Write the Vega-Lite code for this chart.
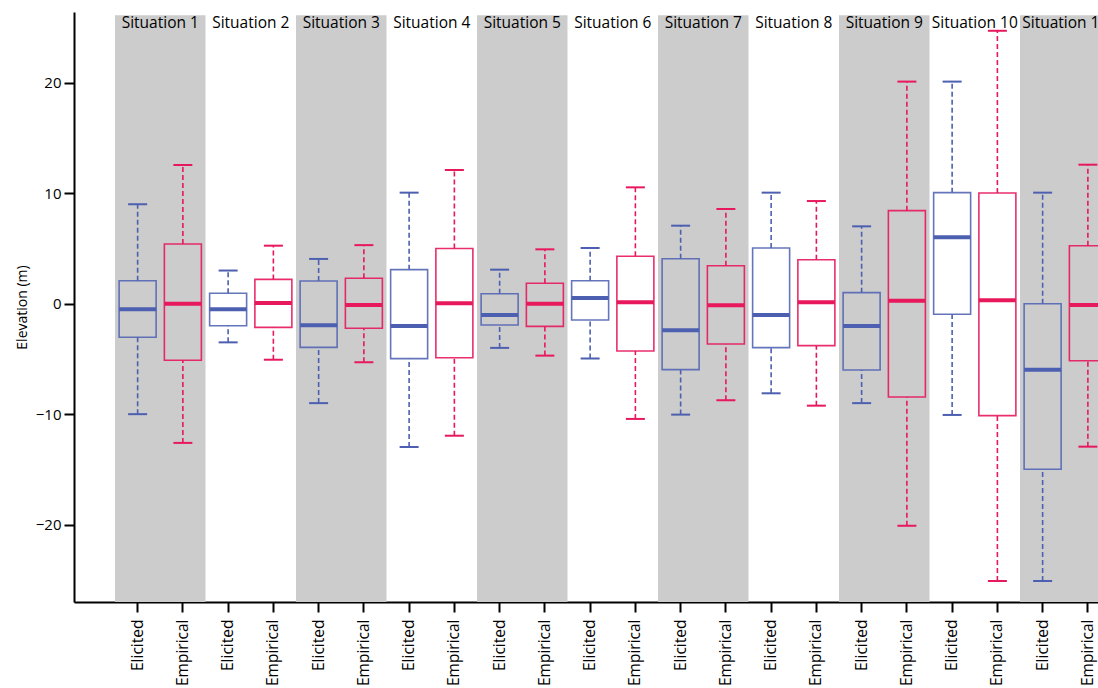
{
  "$schema": "https://vega.github.io/schema/vega-lite/v6.json",
  "autosize": {"type": "none"},
  "padding": {"left": 74, "top": 12, "right": 0, "bottom": 86},
  "width": 1024,
  "height": 590,
  "background": "white",
  "config": {
    "view": {"stroke": null},
    "font": "Open Sans",
    "axis": {
      "grid": false,
      "domainColor": "black",
      "domainWidth": 2,
      "tickColor": "black",
      "tickWidth": 2,
      "tickSize": 10,
      "labelColor": "black",
      "labelFont": "Open Sans",
      "labelFontSize": 15,
      "titleFont": "Open Sans",
      "titleFontSize": 14,
      "titleFontWeight": "normal",
      "titleColor": "black"
    }
  },
  "datasets": {
    "bg": [
      {"situation": "Situation 1", "n": 1},
      {"situation": "Situation 2", "n": 2},
      {"situation": "Situation 3", "n": 3},
      {"situation": "Situation 4", "n": 4},
      {"situation": "Situation 5", "n": 5},
      {"situation": "Situation 6", "n": 6},
      {"situation": "Situation 7", "n": 7},
      {"situation": "Situation 8", "n": 8},
      {"situation": "Situation 9", "n": 9},
      {"situation": "Situation 10", "n": 10},
      {"situation": "Situation 11", "n": 11}
    ],
    "boxes": [
      {"id": "S1 Elicited", "group": "Elicited", "lower": -10.0, "q1": -3.04, "median": -0.5, "q3": 2.08, "upper": 9.0},
      {"id": "S1 Empirical", "group": "Empirical", "lower": -12.6, "q1": -5.12, "median": 0.0, "q3": 5.4, "upper": 12.55},
      {"id": "S2 Elicited", "group": "Elicited", "lower": -3.5, "q1": -2.0, "median": -0.5, "q3": 0.94, "upper": 3.0},
      {"id": "S2 Empirical", "group": "Empirical", "lower": -5.07, "q1": -2.14, "median": 0.06, "q3": 2.2, "upper": 5.25},
      {"id": "S3 Elicited", "group": "Elicited", "lower": -9.0, "q1": -3.95, "median": -1.96, "q3": 2.05, "upper": 4.05},
      {"id": "S3 Empirical", "group": "Empirical", "lower": -5.3, "q1": -2.23, "median": -0.12, "q3": 2.3, "upper": 5.3},
      {"id": "S4 Elicited", "group": "Elicited", "lower": -12.97, "q1": -4.97, "median": -2.02, "q3": 3.08, "upper": 10.05},
      {"id": "S4 Empirical", "group": "Empirical", "lower": -11.95, "q1": -4.9, "median": 0.03, "q3": 5.0, "upper": 12.1},
      {"id": "S5 Elicited", "group": "Elicited", "lower": -4.0, "q1": -1.93, "median": -1.02, "q3": 0.9, "upper": 3.08},
      {"id": "S5 Empirical", "group": "Empirical", "lower": -4.7, "q1": -2.05, "median": 0.0, "q3": 1.85, "upper": 4.92},
      {"id": "S6 Elicited", "group": "Elicited", "lower": -4.97, "q1": -1.48, "median": 0.52, "q3": 2.08, "upper": 5.04},
      {"id": "S6 Empirical", "group": "Empirical", "lower": -10.43, "q1": -4.28, "median": 0.12, "q3": 4.29, "upper": 10.53},
      {"id": "S7 Elicited", "group": "Elicited", "lower": -10.04, "q1": -5.97, "median": -2.41, "q3": 4.07, "upper": 7.06},
      {"id": "S7 Empirical", "group": "Empirical", "lower": -8.74, "q1": -3.65, "median": -0.15, "q3": 3.44, "upper": 8.57},
      {"id": "S8 Elicited", "group": "Elicited", "lower": -8.11, "q1": -3.98, "median": -1.02, "q3": 5.04, "upper": 10.05},
      {"id": "S8 Empirical", "group": "Empirical", "lower": -9.23, "q1": -3.8, "median": 0.12, "q3": 3.98, "upper": 9.29},
      {"id": "S9 Elicited", "group": "Elicited", "lower": -9.0, "q1": -6.0, "median": -2.02, "q3": 1.0, "upper": 7.0},
      {"id": "S9 Empirical", "group": "Empirical", "lower": -20.1, "q1": -8.44, "median": 0.27, "q3": 8.42, "upper": 20.1},
      {"id": "S10 Elicited", "group": "Elicited", "lower": -10.07, "q1": -0.96, "median": 6.01, "q3": 10.05, "upper": 20.1},
      {"id": "S10 Empirical", "group": "Empirical", "lower": -25.1, "q1": -10.13, "median": 0.3, "q3": 10.02, "upper": 24.7},
      {"id": "S11 Elicited", "group": "Elicited", "lower": -25.1, "q1": -14.99, "median": -5.97, "q3": 0.0, "upper": 10.05},
      {"id": "S11 Empirical", "group": "Empirical", "lower": -12.94, "q1": -5.16, "median": -0.12, "q3": 5.25, "upper": 12.58}
    ]
  },
  "resolve": {"scale": {"x": "independent"}, "axis": {"x": "independent"}},
  "layer": [
    {
      "data": {"name": "bg"},
      "encoding": {
        "x": {
          "field": "situation",
          "type": "nominal",
          "scale": {
            "type": "band",
            "domain": ["Situation 1", "Situation 2", "Situation 3", "Situation 4", "Situation 5", "Situation 6", "Situation 7", "Situation 8", "Situation 9", "Situation 10", "Situation 11"],
            "range": [0, 1077.5],
            "paddingInner": 0,
            "paddingOuter": 0.453
          },
          "axis": null
        }
      },
      "layer": [
        {
          "mark": {"type": "rect"},
          "encoding": {
            "y": {"datum": 26.1, "type": "quantitative", "scale": {"domain": [-27, 26.4], "nice": false, "zero": false}, "axis": {"values": [-20, -10, 0, 10, 20], "title": "Elevation (m)", "labelPadding": 3, "titlePadding": 6}},
            "y2": {"datum": -27},
            "fill": {"condition": {"test": "datum.n % 2 == 1", "value": "#cccccc"}, "value": "transparent"}
          }
        },
        {
          "mark": {"type": "text", "fontSize": 15.5, "font": "Open Sans", "color": "black", "baseline": "middle", "align": "center"},
          "encoding": {
            "y": {"datum": 25.4, "type": "quantitative"},
            "text": {"field": "situation"}
          }
        }
      ]
    },
    {
      "data": {"name": "boxes"},
      "encoding": {
        "x": {
          "field": "id",
          "type": "nominal",
          "scale": {
            "type": "band",
            "domain": ["S1 Elicited", "S1 Empirical", "S2 Elicited", "S2 Empirical", "S3 Elicited", "S3 Empirical", "S4 Elicited", "S4 Empirical", "S5 Elicited", "S5 Empirical", "S6 Elicited", "S6 Empirical", "S7 Elicited", "S7 Empirical", "S8 Elicited", "S8 Empirical", "S9 Elicited", "S9 Empirical", "S10 Elicited", "S10 Empirical", "S11 Elicited", "S11 Empirical"],
            "range": [0, 1077.5],
            "paddingInner": 0,
            "paddingOuter": 0.906
          },
          "axis": {
            "orient": "bottom",
            "title": null,
            "labelExpr": "split(datum.label, ' ')[1]",
            "labelAngle": -90,
            "labelAlign": "right",
            "labelBaseline": "middle",
            "labelPadding": 7,
            "labelFontSize": 15.5
          }
        },
        "color": {
          "field": "group",
          "type": "nominal",
          "scale": {"domain": ["Elicited", "Empirical"], "range": ["#4d5fb0", "#e8185c"]},
          "legend": null
        }
      },
      "layer": [
        {
          "mark": {"type": "rule", "strokeDash": [5, 3], "strokeWidth": 1.6},
          "encoding": {
            "y": {"field": "lower", "type": "quantitative", "title": "Elevation (m)", "axis": {"values": [-20, -10, 0, 10, 20], "title": "Elevation (m)", "labelPadding": 3, "titlePadding": 6}},
            "y2": {"field": "q1"}
          }
        },
        {
          "mark": {"type": "rule", "strokeDash": [5, 3], "strokeWidth": 1.6},
          "encoding": {
            "y": {"field": "q3", "type": "quantitative"},
            "y2": {"field": "upper"}
          }
        },
        {
          "mark": {"type": "tick", "orient": "horizontal", "size": 19, "thickness": 2, "opacity": 1},
          "encoding": {"y": {"field": "lower", "type": "quantitative"}}
        },
        {
          "mark": {"type": "tick", "orient": "horizontal", "size": 19, "thickness": 2, "opacity": 1},
          "encoding": {"y": {"field": "upper", "type": "quantitative"}}
        },
        {
          "mark": {"type": "bar", "filled": false, "fill": "transparent", "strokeWidth": 1.6, "size": 37, "opacity": 0.9},
          "encoding": {
            "y": {"field": "q1", "type": "quantitative"},
            "y2": {"field": "q3"},
            "stroke": {"field": "group", "type": "nominal", "scale": {"domain": ["Elicited", "Empirical"], "range": ["#5567b5", "#e8185c"]}, "legend": null}
          }
        },
        {
          "mark": {"type": "tick", "orient": "horizontal", "size": 37, "thickness": 4, "opacity": 1},
          "encoding": {"y": {"field": "median", "type": "quantitative"}}
        }
      ]
    }
  ]
}
